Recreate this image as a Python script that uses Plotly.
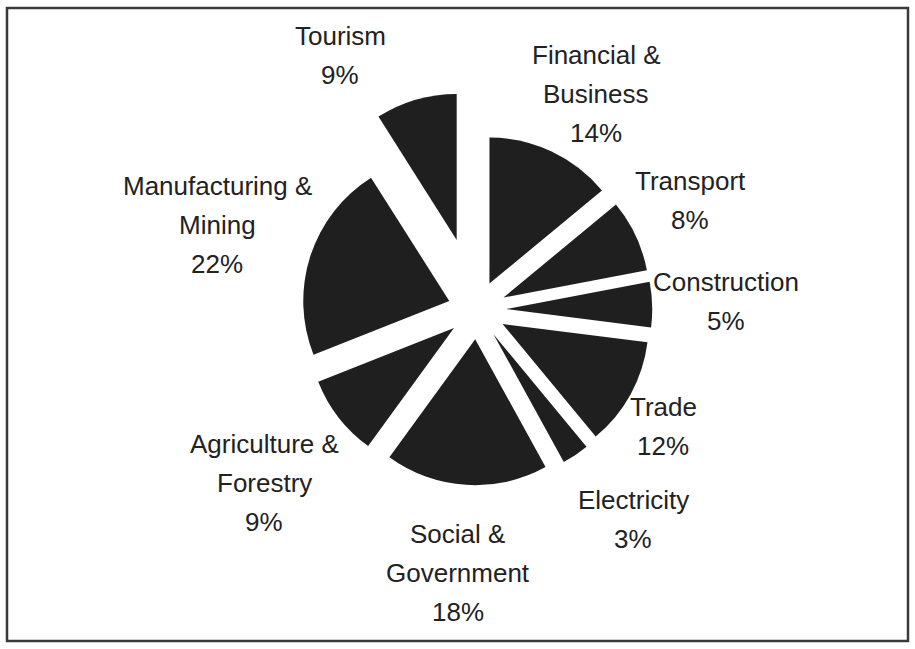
import plotly.graph_objects as go

# ---- data (clockwise from 12 o'clock) ----
categories = ["Financial &<br>Business", "Transport", "Construction", "Trade", "Electricity",
              "Social &<br>Government", "Agriculture &<br>Forestry", "Manufacturing &<br>Mining", "Tourism"]
shares = [14, 8, 5, 12, 3, 18, 9, 22, 9]

# ---- styling / layout ----
W, H = 915, 649
pulls = [0.2, 0.2, 0.2, 0.2, 0.2, 0.2, 0.2, 0.2, 0.5]
slice_color = "#1f1f1f"
text_color = "#222222"
font_family = "Liberation Sans, Arial, sans-serif"
font_size = 26
line_gap = 39  # px between text lines of a label

# label block anchors in pixels: (centre x, y of first line)
label_anchor_px = [(596, 55), (690, 181), (726, 282), (663, 407), (633, 500),
                   (458, 534), (264, 444), (217, 186), (340, 36)]

total = sum(shares)
fig = go.Figure(go.Pie(
    labels=categories, values=shares, pull=pulls, sort=False, direction="clockwise", rotation=0,
    marker=dict(colors=[slice_color] * len(shares), line=dict(width=0)),
    textinfo="none", showlegend=False, hoverinfo="label+percent",
    domain=dict(x=[0.282, 0.7607], y=[0.1849, 0.8598]),
))

annotations = []
for cat, val, (cx, y0) in zip(categories, shares, label_anchor_px):
    lines = cat.split("<br>") + [f"{round(val / total * 100)}%"]
    for k, line in enumerate(lines):
        py = y0 + k * line_gap
        annotations.append(dict(
            text=line, x=cx / W, y=1 - py / H, xref="paper", yref="paper",
            xanchor="center", yanchor="middle", showarrow=False,
            font=dict(family=font_family, size=font_size, color=text_color),
        ))

fig.update_layout(
    width=W, height=H,
    margin=dict(l=0, r=0, t=0, b=0, pad=0, autoexpand=False),
    paper_bgcolor="white", plot_bgcolor="white",
    annotations=annotations,
    shapes=[dict(type="rect", xref="paper", yref="paper",
                 x0=7 / W, x1=908 / W, y0=1 - 641 / H, y1=1 - 8 / H,
                 line=dict(color="#3a3a3a", width=2.5), fillcolor="rgba(0,0,0,0)")],
)
fig.write_html("out.html")
